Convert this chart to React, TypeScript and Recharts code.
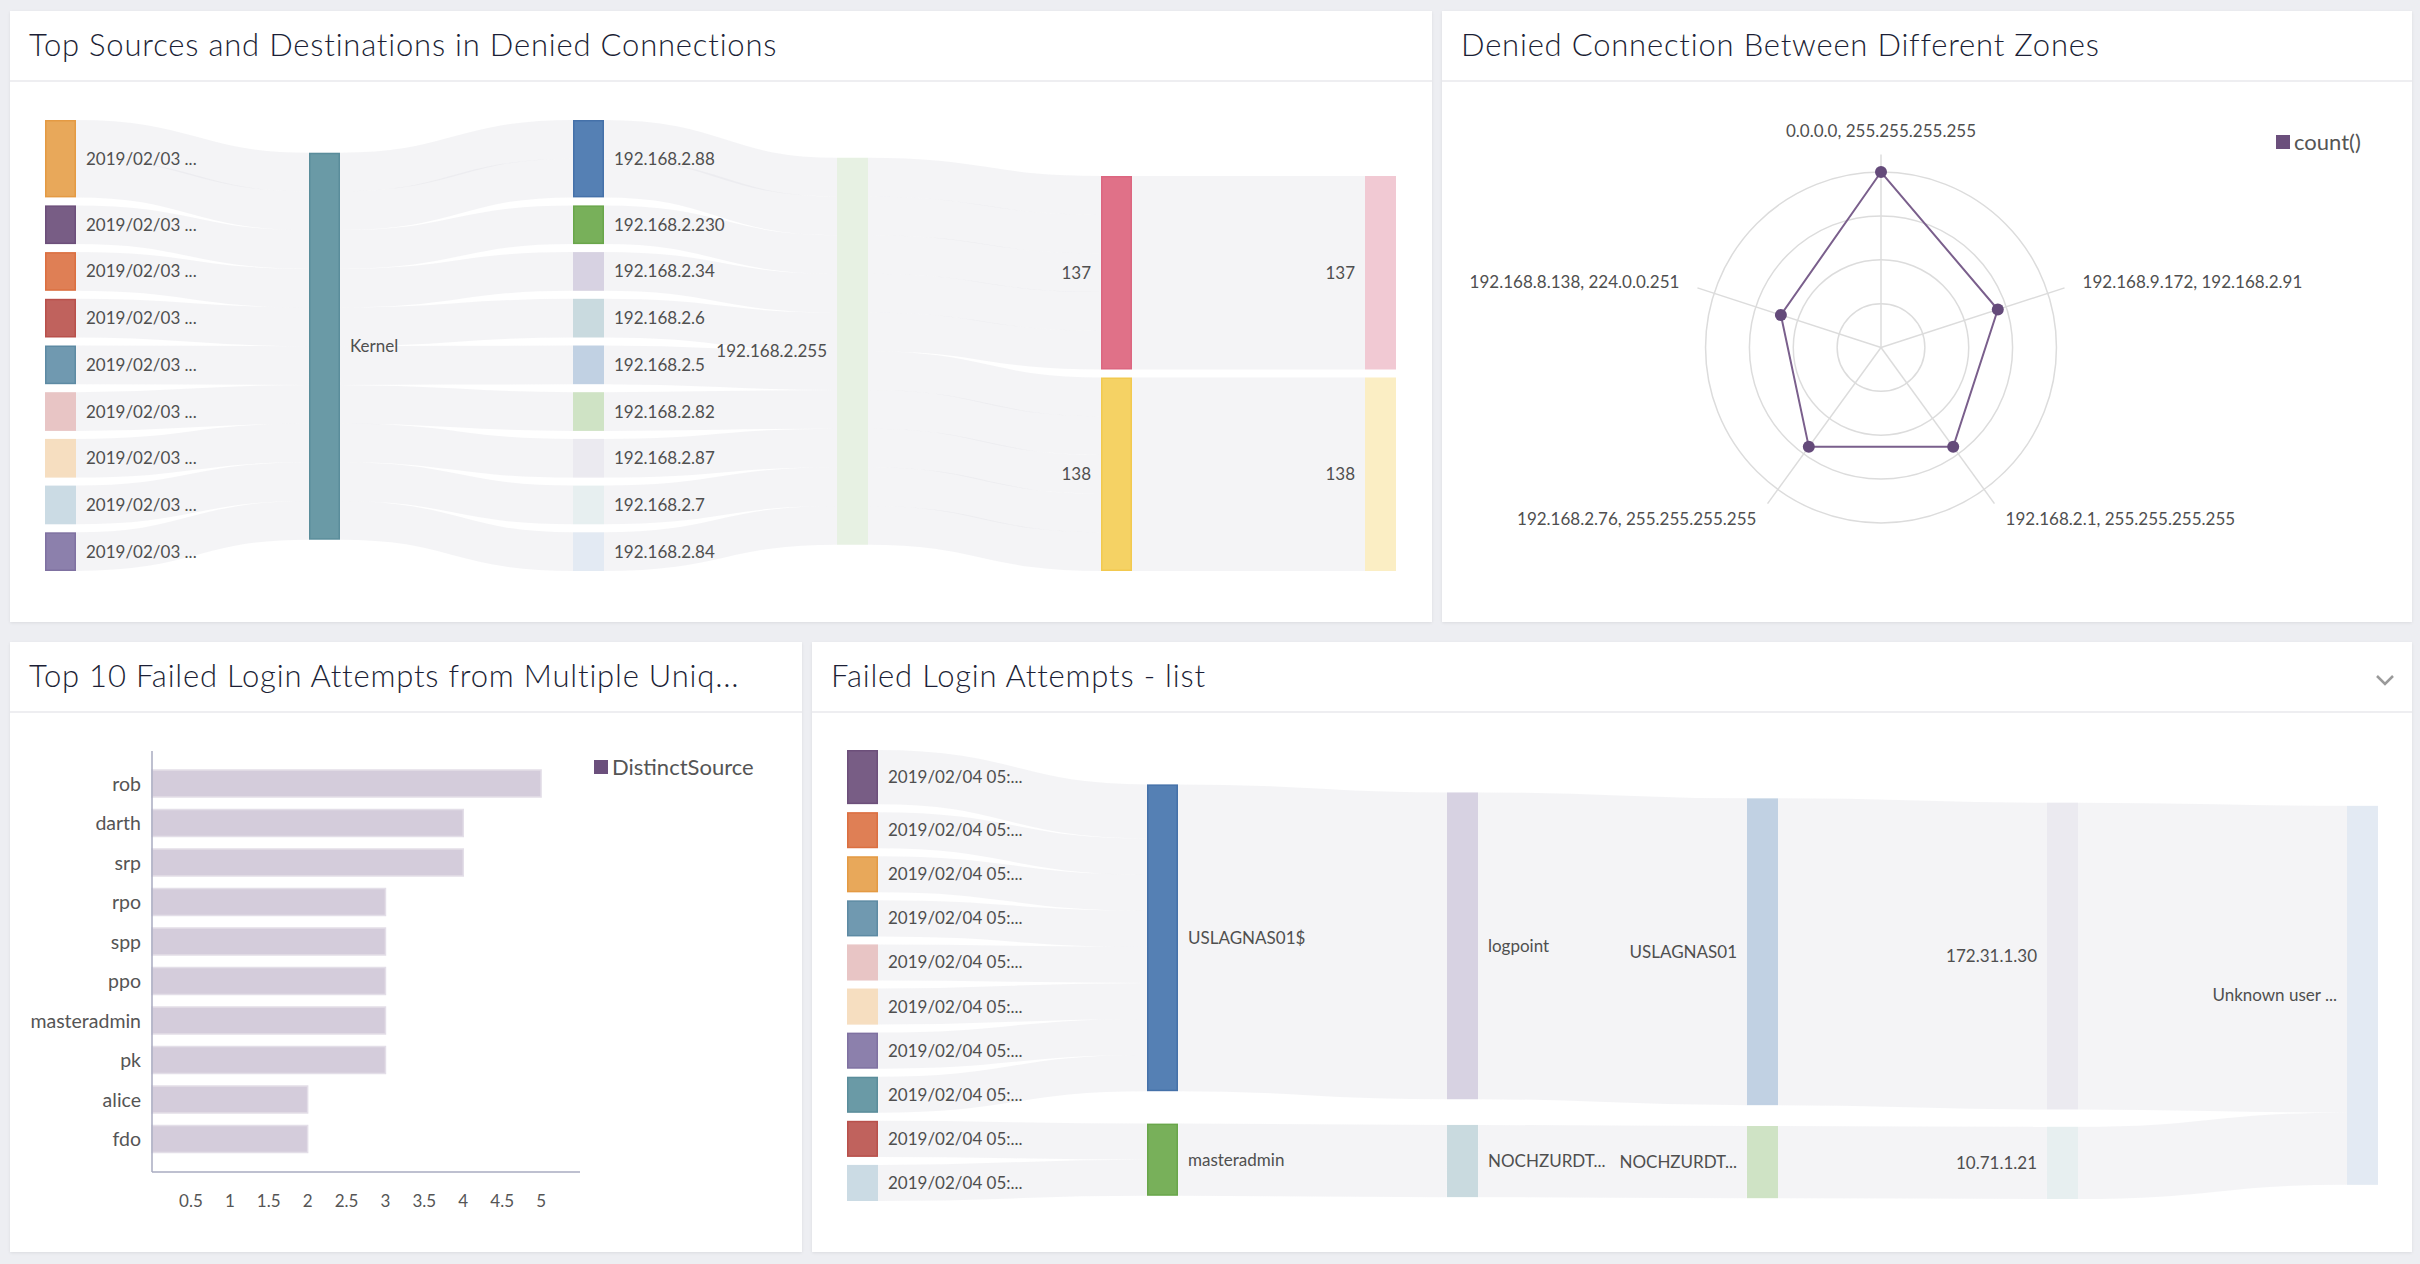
import { Sankey, RadarChart, Radar, PolarGrid, PolarAngleAxis, PolarRadiusAxis, BarChart, Bar, XAxis, YAxis } from "recharts";

const FONT = "Lato, 'Open Sans', sans-serif";

// ---- Top Sources and Destinations in Denied Connections ----
const deniedNames = [
  "2019/02/03 ...", "2019/02/03 ...", "2019/02/03 ...", "2019/02/03 ...", "2019/02/03 ...",
  "2019/02/03 ...", "2019/02/03 ...", "2019/02/03 ...", "2019/02/03 ...",
  "Kernel",
  "192.168.2.88", "192.168.2.230", "192.168.2.34", "192.168.2.6", "192.168.2.5",
  "192.168.2.82", "192.168.2.87", "192.168.2.7", "192.168.2.84",
  "192.168.2.255",
  "137", "138",
  "137", "138",
];
// [source, target, value], one entry per event
const deniedLinks: [number, number, number][] = [
  [0, 9, 1], [0, 9, 1], [1, 9, 1], [2, 9, 1], [3, 9, 1], [4, 9, 1], [5, 9, 1], [6, 9, 1], [7, 9, 1], [8, 9, 1],
  [9, 10, 1], [9, 10, 1], [9, 11, 1], [9, 12, 1], [9, 13, 1], [9, 14, 1], [9, 15, 1], [9, 16, 1], [9, 17, 1], [9, 18, 1],
  [10, 19, 1], [10, 19, 1], [11, 19, 1], [12, 19, 1], [13, 19, 1], [14, 19, 1], [15, 19, 1], [16, 19, 1], [17, 19, 1], [18, 19, 1],
  [19, 20, 1], [19, 20, 1], [19, 20, 1], [19, 20, 1], [19, 20, 1],
  [19, 21, 1], [19, 21, 1], [19, 21, 1], [19, 21, 1], [19, 21, 1],
  [20, 22, 5], [21, 23, 5],
];

// ---- Denied Connection Between Different Zones ----
const zonePairs = [
  "0.0.0.0, 255.255.255.255",
  "192.168.9.172, 192.168.2.91",
  "192.168.2.1, 255.255.255.255",
  "192.168.2.76, 255.255.255.255",
  "192.168.8.138, 224.0.0.251",
];
const zoneCounts = [10, 7, 7, 7, 6];
const zoneRings = [2.5, 5, 7.5, 10];

// ---- Top 10 Failed Login Attempts from Multiple Unique Sources ----
const loginUsers = ["rob", "darth", "srp", "rpo", "spp", "ppo", "masteradmin", "pk", "alice", "fdo"];
const distinctSources = [5, 4, 4, 3, 3, 3, 3, 3, 2, 2];
const sourceTicks = [0.5, 1, 1.5, 2, 2.5, 3, 3.5, 4, 4.5, 5];

// ---- Failed Login Attempts - list ----
const loginNames = [
  "2019/02/04 05:...", "2019/02/04 05:...", "2019/02/04 05:...", "2019/02/04 05:...", "2019/02/04 05:...",
  "2019/02/04 05:...", "2019/02/04 05:...", "2019/02/04 05:...", "2019/02/04 05:...", "2019/02/04 05:...",
  "USLAGNAS01$", "masteradmin",
  "logpoint", "NOCHZURDT...",
  "USLAGNAS01", "NOCHZURDT...",
  "172.31.1.30", "10.71.1.21",
  "Unknown user ...",
];
const loginLinks: [number, number, number][] = [
  [0, 10, 3], [1, 10, 2], [2, 10, 2], [3, 10, 2], [4, 10, 2], [5, 10, 2], [6, 10, 2], [7, 10, 2],
  [8, 11, 2], [9, 11, 2],
  [10, 12, 17], [11, 13, 4],
  [12, 14, 17], [13, 15, 4],
  [14, 16, 17], [15, 17, 4],
  [16, 18, 17], [17, 18, 4],
];

// node colours [fill, border]
const deniedColors = [
  ["#e8a85a", "#e49a43"], ["#785d85", "#6c4f7a"], ["#df7f55", "#db6f40"], ["#c0625d", "#b8504b"],
  ["#7099b0", "#5d8aa3"], ["#e8c5c5", "#e8c5c5"], ["#f6dec0", "#f6dec0"], ["#cbdbe4", "#cbdbe4"],
  ["#8c80ac", "#7f71a1"], ["#6a9aa6", "#5a8d9b"],
  ["#5580b4", "#4571a9"], ["#78b05a", "#69a64a"], ["#d7d2e2", "#d7d2e2"], ["#c9dadf", "#c9dadf"],
  ["#c1d1e3", "#c1d1e3"], ["#cfe3c5", "#cfe3c5"], ["#ebeaf0", "#ebeaf0"], ["#e7eff0", "#e7eff0"],
  ["#e3eaf3", "#e3eaf3"], ["#e7f1e3", "#e7f1e3"],
  ["#e07188", "#dc6680"], ["#f5d264", "#f2c94f"], ["#f1c9d3", "#f1c9d3"], ["#fbeec4", "#fbeec4"],
];
const loginColors = [
  ["#785d85", "#6c4f7a"], ["#df7f55", "#db6f40"], ["#e8a85a", "#e49a43"], ["#7099b0", "#5d8aa3"],
  ["#e8c5c5", "#e8c5c5"], ["#f6dec0", "#f6dec0"], ["#8c80ac", "#7f71a1"], ["#6a9aa6", "#5a8d9b"],
  ["#c0625d", "#b8504b"], ["#cbdbe4", "#cbdbe4"],
  ["#5580b4", "#4571a9"], ["#78b05a", "#69a64a"], ["#d7d2e2", "#d7d2e2"], ["#c9dadf", "#c9dadf"],
  ["#c1d1e3", "#c1d1e3"], ["#cfe3c5", "#cfe3c5"], ["#ebeaf0", "#ebeaf0"], ["#e7eff0", "#e7eff0"],
  ["#e3eaf3", "#e3eaf3"],
];

const toSankey = (names: string[], links: [number, number, number][]) => ({
  nodes: names.map((name, idx) => ({ name, idx })),
  links: links.map(([source, target, value]) => ({ source, target, value })),
});

const makeNode = (colors: string[][], chartW: number) => (props: any) => {
  const { x, y, width, height, index, payload } = props;
  const i = payload?.idx ?? index;
  const [fill, stroke] = colors[i] || ["#ccc", "#ccc"];
  const right = x + width / 2 < chartW / 2;
  return (
    <g>
      <rect x={x + 0.75} y={y + 0.75} width={width - 1.5} height={Math.max(height - 1.5, 0)} fill={fill} stroke={stroke} strokeWidth={1.5} />
      <text
        x={right ? x + width + 10 : x - 10}
        y={y + height / 2}
        dy="0.35em"
        textAnchor={right ? "start" : "end"}
        fontSize={17}
        fontFamily={FONT}
        fill="#4f4f4f"
      >
        {payload.name}
      </text>
    </g>
  );
};

const SankeyLink = (props: any) => {
  const { sourceX, sourceY, sourceControlX, targetX, targetY, targetControlX, linkWidth } = props;
  return (
    <path
      d={`M${sourceX},${sourceY}C${sourceControlX},${sourceY} ${targetControlX},${targetY} ${targetX},${targetY}`}
      fill="none"
      stroke="#dcdde3"
      strokeOpacity={0.32}
      strokeWidth={linkWidth}
    />
  );
};

const RADAR_OUTER = 193;
const RADAR_MAX = 11;

const AngleTick = (props: any) => {
  const { x, y, payload, textAnchor } = props;
  return (
    <text x={x} y={y} dy={textAnchor === "middle" ? "0.1em" : "0.35em"} textAnchor={textAnchor} fontSize={17} fontFamily={FONT} fill="#4f4f4f">
      {payload.value}
    </text>
  );
};

const RadarDot = (props: any) => {
  const cx = props.cx ?? props.x;
  const cy = props.cy ?? props.y;
  return <circle key={`dot-${props.index}`} cx={cx} cy={cy} r={6} fill="#644a7a" stroke="none" />;
};

const Panel = ({ left, top, width, height, title, chevron, children }: any) => (
  <div
    style={{
      position: "absolute",
      left,
      top,
      width,
      height,
      background: "#fff",
      boxShadow: "0 1px 3px rgba(0,0,0,0.08)",
    }}
  >
    <div
      style={{
        position: "absolute",
        left: 0,
        top: 0,
        width,
        height: 71,
        borderBottom: "2px solid #eeeef1",
        boxSizing: "border-box",
      }}
    >
      <div
        style={{
          position: "absolute",
          left: 19,
          top: 17.5,
          fontSize: 31,
          lineHeight: "31px",
          fontWeight: 300,
          letterSpacing: 0.8,
          color: "#1c1f36",
          whiteSpace: "nowrap",
        }}
      >
        {title}
      </div>
      {chevron && (
        <svg style={{ position: "absolute", right: 18, top: 32 }} width={18} height={12}>
          <polyline points="1,2 9,10 17,2" fill="none" stroke="#9a9a9a" strokeWidth={2.5} />
        </svg>
      )}
    </div>
    {children}
  </div>
);

const LegendItem = ({ left, top, label }: any) => (
  <div style={{ position: "absolute", left, top, display: "flex", alignItems: "center", fontSize: 22, lineHeight: "26px", color: "#555", whiteSpace: "nowrap" }}>
    <span style={{ display: "inline-block", width: 14, height: 14, background: "#6b4f7c", marginRight: 4 }} />
    {label}
  </div>
);

const SANKEY_A_W = 1351;
const SANKEY_B_W = 1531;

export default function App() {
  const deniedData = toSankey(deniedNames, deniedLinks);
  const loginData = toSankey(loginNames, loginLinks);
  const radarData = zonePairs.map((pair, i) => ({ pair, count: zoneCounts[i] }));
  const barData = loginUsers.map((user, i) => ({ user, sources: distinctSources[i] }));
  const ringRadii = zoneRings.map((v) => (v / RADAR_MAX) * RADAR_OUTER);
  const axisStyle = { stroke: "#a9abc0", strokeWidth: 1.5 };
  const tickStyle = { fontSize: 17, fill: "#555", fontFamily: FONT };
  const catTickStyle = { fontSize: 19.5, fill: "#555", fontFamily: FONT };

  return (
    <div style={{ position: "absolute", left: 0, top: 0, width: 2420, height: 1264, background: "#edeef2", overflow: "hidden", fontFamily: FONT }}>
      <Panel left={10} top={11} width={1422} height={611} title="Top Sources and Destinations in Denied Connections">
        <div style={{ position: "absolute", left: 35, top: 109 }}>
          <Sankey
            width={SANKEY_A_W}
            height={451}
            data={deniedData}
            nodeWidth={31}
            nodePadding={8}
            margin={{ top: 0, right: 0, bottom: 0, left: 0 }}
            sort={false}
            node={makeNode(deniedColors, SANKEY_A_W)}
            link={SankeyLink}
          />
        </div>
      </Panel>

      <Panel left={1442} top={11} width={970} height={611} title="Denied Connection Between Different Zones">
        <div style={{ position: "absolute", left: 0, top: 71 }}>
          <RadarChart width={970} height={540} cx={439} cy={265.5} outerRadius={RADAR_OUTER} data={radarData} margin={{ top: 0, right: 0, bottom: 0, left: 0 }}>
            <PolarGrid gridType="circle" polarRadius={ringRadii} stroke="#dcdcdc" strokeWidth={1.5} />
            <PolarAngleAxis dataKey="pair" tick={AngleTick} tickLine={false} axisLine={false} tickSize={19} />
            <PolarRadiusAxis domain={[0, RADAR_MAX]} tick={false} axisLine={false} />
            <Radar
              dataKey="count"
              stroke="#7a5f8c"
              strokeWidth={2}
              fill="none"
              fillOpacity={0}
              dot={RadarDot}
              isAnimationActive={false}
            />
          </RadarChart>
        </div>
        <LegendItem left={834} top={118} label="count()" />
      </Panel>

      <Panel left={10} top={642} width={792} height={610} title="Top 10 Failed Login Attempts from Multiple Uniq...">
        <div style={{ position: "absolute", left: 0, top: 71 }}>
          <BarChart width={792} height={539} data={barData} layout="vertical" margin={{ top: 38, right: 222, bottom: 50, left: 0 }}>
            <XAxis type="number" domain={[0, 5.5]} ticks={sourceTicks} tickLine={false} axisLine={axisStyle} tick={tickStyle} tickMargin={17} height={30} />
            <YAxis
              type="category"
              dataKey="user"
              width={142}
              tickLine={false}
              axisLine={axisStyle}
              tick={catTickStyle}
              tickMargin={5}
              interval={0}
              padding={{ top: 13, bottom: 13 }}
            />
            <Bar dataKey="sources" fill="#d4ccdb" stroke="#e3dee8" strokeWidth={1.5} barSize={27} isAnimationActive={false} />
          </BarChart>
        </div>
        <LegendItem left={584} top={112} label="DistinctSource" />
      </Panel>

      <Panel left={812} top={642} width={1600} height={610} title="Failed Login Attempts - list" chevron>
        <div style={{ position: "absolute", left: 35, top: 108 }}>
          <Sankey
            width={SANKEY_B_W}
            height={451}
            data={loginData}
            nodeWidth={31}
            nodePadding={8}
            margin={{ top: 0, right: 0, bottom: 0, left: 0 }}
            sort={false}
            node={makeNode(loginColors, SANKEY_B_W)}
            link={SankeyLink}
          />
        </div>
      </Panel>
    </div>
  );
}
